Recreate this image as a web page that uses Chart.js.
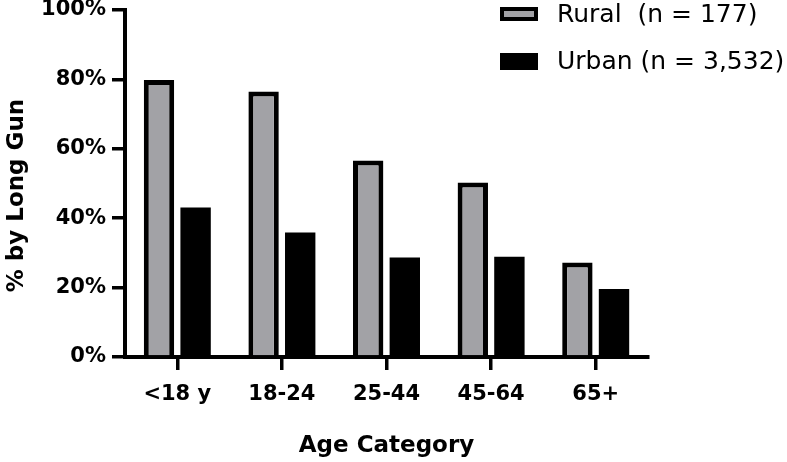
<!DOCTYPE html>
<html>
<head>
<meta charset="utf-8">
<script src="https://cdn.jsdelivr.net/npm/chart.js@4.4.0/dist/chart.umd.min.js"></script>
<style>
  html, body { margin: 0; padding: 0; background: #fff; }
  #wrap { width: 787px; height: 462px; }
</style>
</head>
<body>
<div id="wrap"><canvas id="age-chart"></canvas></div>
<script>
// categories and values (percent by long gun)
var ageCategories = ['<18 y', '18-24', '25-44', '45-64', '65+'];
var ruralValues = [79.8, 76.5, 56.6, 50.3, 27.2];
var urbanValues = [43.1, 35.9, 28.7, 28.9, 19.6];
var seriesLabels = ['Rural  (n = 177)', 'Urban (n = 3,532)'];
var yTicks = [0, 20, 40, 60, 80, 100];

var fontFamily = "'DejaVu Sans', sans-serif";

// legend drawn by hand, top right, overlapping the plot like the original
var cornerLegend = {
    id: 'cornerLegend',
    afterDraw: function(chart) {
        var ctx = chart.ctx;
        var rows = [{ y: 7, h: 14 }, { y: 53, h: 17 }];
        ctx.save();
        chart.data.datasets.forEach(function(ds, i) {
            var r = rows[i];
            var bw = i === 0 ? 4 : 0;
            ctx.fillStyle = ds.borderColor;
            ctx.fillRect(500, r.y, 38, r.h);
            ctx.fillStyle = ds.backgroundColor;
            ctx.fillRect(500 + bw, r.y + bw, 38 - 2 * bw, r.h - 2 * bw);
            ctx.fillStyle = '#000';
            ctx.font = "25px " + fontFamily;
            ctx.textBaseline = 'middle';
            ctx.textAlign = 'left';
            ctx.fillText(ds.label, 557, r.y + r.h / 2 + 1);
        });
        ctx.restore();
    }
};

var ctx = document.getElementById('age-chart').getContext('2d');

var chart = new Chart(ctx, {
    type: 'bar',
    data: {
        labels: ageCategories,
        datasets: [{
            label: seriesLabels[0],
            data: ruralValues,
            backgroundColor: '#a2a2a6',
            borderColor: '#000',
            borderWidth: 5,
            borderSkipped: 'start'
        }, {
            label: seriesLabels[1],
            data: urbanValues,
            backgroundColor: '#000',
            borderColor: '#000',
            borderWidth: 0
        }]
    },
    options: {
        responsive: true,
        maintainAspectRatio: false,
        animation: false,
        categoryPercentage: 0.7,
        barPercentage: 0.83,
        layout: { padding: { top: 10, right: 139, bottom: 0, left: 0 } },
        plugins: {
            legend: { display: false },
            tooltip: { enabled: false }
        },
        scales: {
            x: {
                grid: {
                    offset: false,
                    drawOnChartArea: false,
                    drawTicks: true,
                    tickLength: 13,
                    color: '#000',
                    lineWidth: 3.5
                },
                border: { display: true, color: '#000', width: 4 },
                ticks: {
                    color: '#000',
                    padding: 12,
                    maxRotation: 0,
                    font: { family: fontFamily, size: 21, weight: 'bold' }
                },
                title: {
                    display: true,
                    text: 'Age Category',
                    color: '#000',
                    padding: { top: 0, bottom: 2 },
                    font: { family: fontFamily, size: 23, weight: 'bold' }
                },
                afterFit: function(scale) {
                    scale.height = 105;
                    scale.paddingLeft = 0;
                    scale.paddingRight = 0;
                }
            },
            y: {
                min: 0,
                max: 100,
                afterBuildTicks: function(scale) {
                    scale.ticks = yTicks.map(function(v) { return { value: v }; });
                },
                grid: {
                    drawOnChartArea: false,
                    drawTicks: true,
                    tickLength: 13,
                    color: '#000',
                    lineWidth: 3.5
                },
                border: { display: true, color: '#000', width: 4 },
                ticks: {
                    color: '#000',
                    padding: 6,
                    font: { family: fontFamily, size: 21, weight: 'bold' },
                    callback: function(v) { return v + '%'; }
                },
                title: {
                    display: true,
                    text: '% by Long Gun   ',
                    color: '#000',
                    padding: { top: 3, bottom: 0 },
                    font: { family: fontFamily, size: 23, weight: 'bold' }
                },
                afterFit: function(scale) {
                    scale.width = 125;
                    scale.paddingTop = 0;
                    scale.paddingBottom = 0;
                }
            }
        }
    },
    plugins: [cornerLegend]
});
</script>
</body>
</html>
